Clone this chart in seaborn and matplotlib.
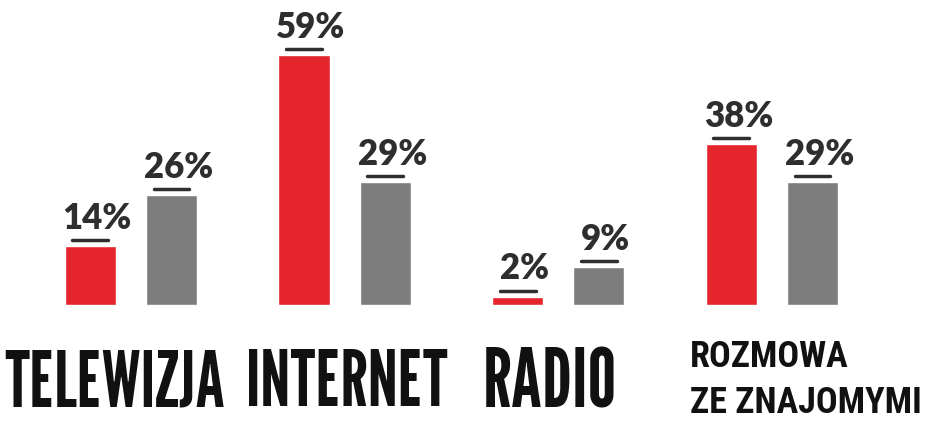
import matplotlib
matplotlib.use("Agg")
import matplotlib.pyplot as plt
import matplotlib.transforms as mtransforms
import seaborn as sns
import pandas as pd

categories = ["TELEWIZJA", "INTERNET", "RADIO", "ROZMOWA\nZE ZNAJOMYMI"]
series_names = ["A", "B"]
red_values = [14, 59, 2, 38]
gray_values = [26, 29, 9, 29]

df = pd.DataFrame({
    "cat": categories * 2,
    "series": [series_names[0]] * 4 + [series_names[1]] * 4,
    "value": red_values + gray_values,
})

sns.set_theme(style="white")
plt.rcParams["font.family"] = ["DejaVu Sans"]

label_font = ["League Gothic", "Oswald", "DejaVu Sans"]
small_font = ["Roboto Condensed", "Oswald", "DejaVu Sans"]
value_font = ["Fredoka One", "Lato", "DejaVu Sans"]

fig = plt.figure(figsize=(9.38, 4.21), dpi=100)
ax = fig.add_axes([0, 0.2755, 1, 0.7245])

sns.barplot(data=df, x="cat", y="value", hue="series", order=categories,
            hue_order=series_names, palette=["#e4262c", "#7d7d7d"],
            width=0.76, gap=0.37, ax=ax, legend=False, errorbar=None,
            saturation=1)

ax.set_ylim(0, 72)
ax.set_xlim(-0.613, 3.777)
ax.set_xlabel("")
ax.set_ylabel("")
ax.set_yticks([])
for s in ax.spines.values():
    s.set_visible(False)

up = mtransforms.ScaledTranslation(0, 6 / 100, fig.dpi_scale_trans)
for p in ax.patches:
    h = p.get_height()
    if h <= 0:
        continue
    cx = p.get_x() + p.get_width() / 2
    ax.annotate(f"{h:.0f}%", xy=(cx, h), xytext=(5, 8), textcoords="offset points",
                ha="center", va="bottom", fontsize=25, fontweight="heavy",
                family=value_font, color="#2e2e2e")
    ax.plot([p.get_x() + p.get_width() * 0.15, p.get_x() + p.get_width() * 0.85], [h, h],
            color="#2e2e2e", lw=2.5, solid_capstyle="round", transform=ax.transData + up,
            clip_on=False)

ax.set_xticks(range(len(categories)))
ax.set_xticklabels(categories)
ax.tick_params(axis="x", length=0, pad=32)
labels = ax.get_xticklabels()
shifts = [(-0.16, 0), (0.02, 0), (-0.08, 0.02), (-0.82, 0.10)]
for i, lab in enumerate(labels):
    lab.set_family(label_font)
    lab.set_color("#111111")
    lab.set_va("top")
    if i < 3:
        lab.set_fontsize(55)
    if i == 2:
        lab.set_fontsize(58)
    if i == 3:
        lab.set_family(small_font)
        lab.set_fontweight("bold")
        lab.set_fontsize(26)
        lab.set_linespacing(1.35)
        lab.set_ha("left")
        lab.set_multialignment("left")
    dx, dy = shifts[i]
    lab.set_transform(lab.get_transform() + mtransforms.ScaledTranslation(dx, dy, fig.dpi_scale_trans))

fig.savefig("out.png", dpi=100, facecolor="white")
